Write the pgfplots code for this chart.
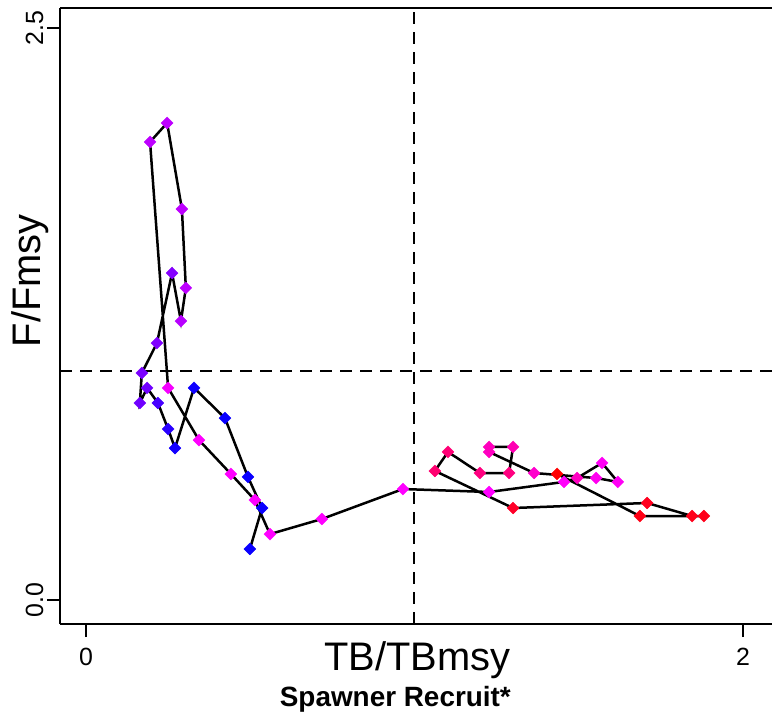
\documentclass[border=0pt]{standalone}
\usepackage{pgfplots}
\pgfplotsset{compat=1.18}
\usepackage{pgfplotstable}
\usepackage{fontspec}
\setmainfont{Liberation Sans}

\pgfplotstableread{
x y c
0.499 0.223 0.02
0.536 0.402 0.02
0.493 0.538 0.02
0.423 0.795 0.02
0.329 0.927 0.03
0.271 0.664 0.04
0.250 0.747 0.08
0.219 0.861 0.14
0.186 0.927 0.22
0.164 0.861 0.22
0.170 0.992 0.24
0.216 1.123 0.25
0.262 1.429 0.26
0.289 1.219 0.36
0.304 1.364 0.37
0.292 1.709 0.37
0.247 2.085 0.37
0.195 2.002 0.37
0.250 0.927 0.48
0.344 0.699 0.50
0.441 0.551 0.50
0.514 0.437 0.50
0.560 0.288 0.50
0.718 0.354 0.50
0.965 0.485 0.50
1.227 0.472 0.50
1.455 0.516 0.51
1.495 0.533 0.62
1.571 0.599 0.52
1.619 0.516 0.52
1.553 0.533 0.53
1.364 0.555 0.60
1.227 0.647 0.62
1.227 0.669 0.63
1.300 0.669 0.65
1.288 0.555 0.75
1.199 0.555 0.75
1.102 0.647 0.77
1.062 0.564 0.78
1.300 0.402 0.92
1.708 0.424 0.94
1.845 0.367 0.95
1.881 0.367 0.95
1.686 0.367 0.96
1.434 0.551 1.00
}\kobe

\begin{document}
\begin{tikzpicture}
\useasboundingbox (0,0) rectangle (772bp,723bp);
\begin{axis}[
  at={(60bp,99bp)}, anchor=south west,
  scale only axis, width=712bp, height=616bp,
  xmin=-0.0791, xmax=2.0883, ymin=-0.1049, ymax=2.5874,
  axis x line*=box, axis y line*=left,
  xtick={0,2}, xticklabels={0,2},
  ytick={0,2.5}, yticklabels={0.0,2.5},
  xtick pos=bottom, ytick pos=left,
  tick align=outside, major tick length=13bp,
  every tick/.style={black, line width=2.2bp},
  axis line style={black, line width=2.5bp},
  ticklabel style={font=\fontsize{25}{29}\selectfont},
  yticklabel style={rotate=90, anchor=south},
  xticklabel style={anchor=north, yshift=-8bp},
  clip=false,
  colormap={bmr}{rgb255=(0,0,255) rgb255=(255,0,255) rgb255=(255,0,0)},
  point meta min=0, point meta max=1,
]
\addplot[black, line width=2bp, dash pattern=on 12bp off 8bp] coordinates {(-0.0791,1) (2.0883,1)};
\addplot[black, line width=2bp, dash pattern=on 12bp off 8bp] coordinates {(1,-0.1049) (1,2.5874)};
\addplot[black, line width=2.5bp, no marks] table[x=x, y=y] {\kobe};
\addplot[only marks, scatter, scatter src=explicit, mark=square*, mark size=4.2bp,
  scatter/use mapped color={draw=mapped color, fill=mapped color},
  mark options={rotate=45, line width=0.4bp}] table[x=x, y=y, meta=c] {\kobe};

\node[anchor=base, yshift=-46bp, font=\fontsize{40}{44}\selectfont] at (rel axis cs:0.502,0) {TB/TBmsy};
\node[xshift=-19bp, rotate=90, anchor=base, font=\fontsize{40}{44}\selectfont] at (rel axis cs:0,0.557) {F/Fmsy};
\node[anchor=base, yshift=-82bp, font=\fontsize{28}{32}\selectfont\bfseries] at (rel axis cs:0.471,0) {Spawner Recruit*};
\end{axis}
\end{tikzpicture}
\end{document}
